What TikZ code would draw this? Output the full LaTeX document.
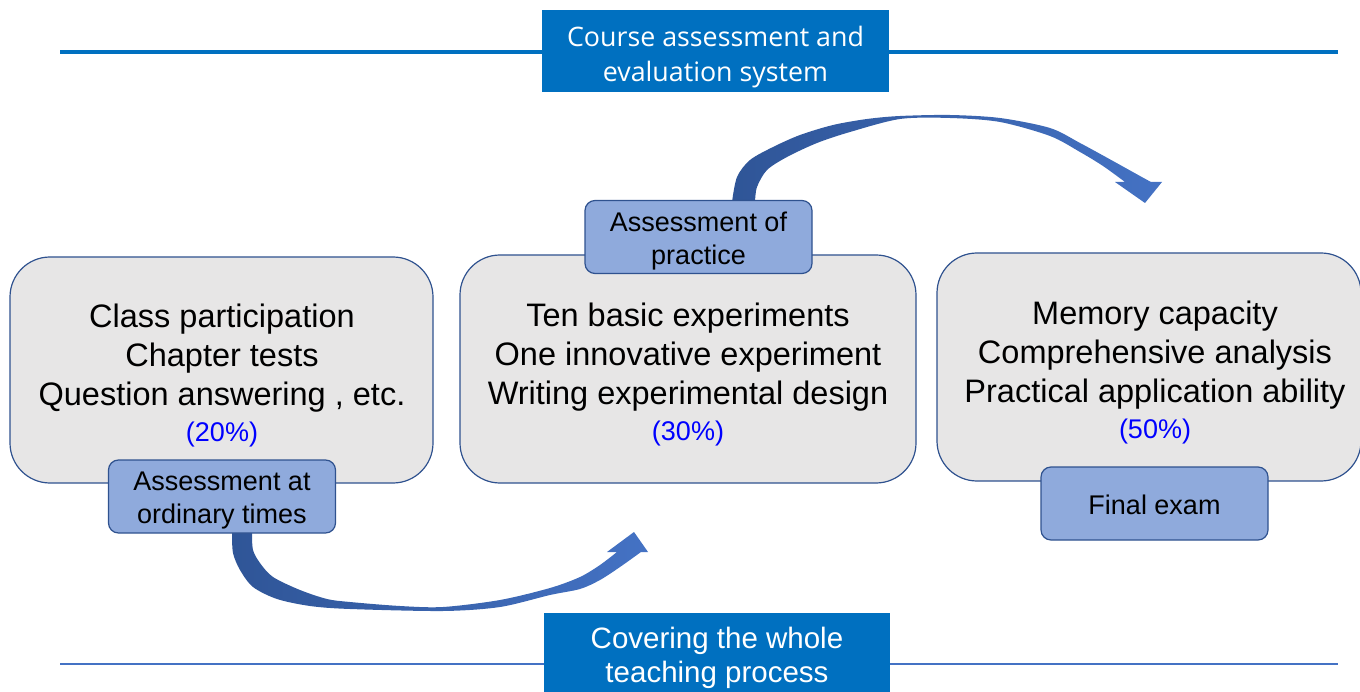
\documentclass[tikz,border=0pt]{standalone}
\usepackage{fontspec}
\setmainfont{Liberation Sans}
\newfontfamily\titlefont{Open Sans}
\definecolor{titleblue}{HTML}{0070C0}
\definecolor{lineblue}{HTML}{4472C4}
\definecolor{boxline}{HTML}{2F528F}
\definecolor{boxfill}{HTML}{E7E6E6}
\definecolor{smallfill}{HTML}{8FAADC}
\definecolor{pctblue}{HTML}{0000FF}
\definecolor{arrowdark}{HTML}{2F5597}
\definecolor{arrowlight}{HTML}{4472C4}
\newcommand{\lowerby}[1]{\rule{0pt}{#1}}
\begin{document}
\begin{tikzpicture}[x=1pt,y=-1pt,
  bigbox/.style={draw=boxline,fill=boxfill,rounded corners=40pt,line width=1.2pt,inner sep=0pt},
  smallbox/.style={draw=boxline,fill=smallfill,rounded corners=10pt,line width=1.2pt,inner sep=0pt,
    minimum width=227pt,minimum height=73pt,align=center,font=\fontsize{27}{33}\selectfont},
  titlebox/.style={fill=titleblue,text=white,inner sep=0pt,align=center},
  bodytext/.style={align=center,inner sep=0pt,anchor=base,font=\fontsize{32.5}{38.7}\selectfont},
  arrowshape/.style={left color=arrowdark,right color=arrowlight,draw=none}
]
\useasboundingbox (0,0) rectangle (1360,692);

% rules
\coordinate (tl1) at (60,52);
\coordinate (tl2) at (1338,52);
\coordinate (bl1) at (60,664);
\coordinate (bl2) at (1338,664);
\draw[titleblue,line width=4pt] (tl1) -- (tl2);
\draw[lineblue,line width=2pt] (bl1) -- (bl2);

% title boxes
\node[titlebox,minimum width=347pt,minimum height=82pt,font=\titlefont\fontsize{26.8}{35}\selectfont]
  (top) at (715.5,51) {\lowerby{32pt}Course assessment and\\evaluation system};
\node[titlebox,minimum width=346pt,minimum height=86pt,font=\fontsize{29.5}{34}\selectfont]
  (bottom) at (717,656) {\lowerby{26pt}Covering the whole\\teaching process};

% big boxes
\node[bigbox,minimum width=423pt,minimum height=226pt] (b1) at (221.5,370) {};
\node[bigbox,minimum width=456pt,minimum height=228pt] (b2) at (688,369) {};
\node[bigbox,minimum width=424pt,minimum height=228pt] (b3) at (1149,367) {};

\node[bodytext] (t1) at (222,441) {Class participation\\Chapter tests\\Question answering , etc.\\[-3pt]{\color{pctblue}\fontsize{27}{38.7}\selectfont(20\%)}};
\node[bodytext] (t2) at (688,440) {Ten basic experiments\\One innovative experiment\\Writing experimental design\\[-3pt]{\color{pctblue}\fontsize{27}{38.7}\selectfont(30\%)}};
\node[bodytext] (t3) at (1155,438) {Memory capacity\\Comprehensive analysis\\Practical application ability\\[-3pt]{\color{pctblue}\fontsize{27}{38.7}\selectfont(50\%)}};

% curved arrows
\shade[arrowshape] plot[smooth] coordinates {(232,533) (233,553) (240,570) (253,587) (277,599) (310,606) (350,609) (443,611) (500,607) (550,595) (580,589) (600,580) (620,567) (641,552)}
  -- (648,552) -- (634,532) -- (607,552) -- (617,552)
  -- plot[smooth] coordinates {(617,552) (600,565) (580,577) (550,588) (500,600) (443,607) (400,606) (350,602) (327,599) (300,590) (273,577) (260,563) (253,550) (252,533)}
  -- cycle;
\shade[arrowshape] plot[smooth] coordinates {(732,202) (737,177) (750,160) (773,147) (800,135) (833,125) (867,119) (900,116) (950,115) (1000,118) (1050,128) (1080,143) (1113,161) (1140,176) (1151,182)}
  -- (1162,182) -- (1145,203) -- (1115,182) -- (1125,182)
  -- plot[smooth] coordinates {(1125,182) (1103,166) (1080,152) (1050,136) (1000,122) (950,118) (900,119) (850,132) (817,143) (787,157) (767,170) (757,187) (755,202)}
  -- cycle;

% small boxes
\node[smallbox] (ordinary) at (222,496.5) {\lowerby{27pt}Assessment at\\ordinary times};
\node[smallbox] (practice) at (698.5,237) {\lowerby{27pt}Assessment of\\practice};
\node[smallbox] (final) at (1154.5,503.5) {\lowerby{23pt}Final exam};
\end{tikzpicture}
\end{document}
